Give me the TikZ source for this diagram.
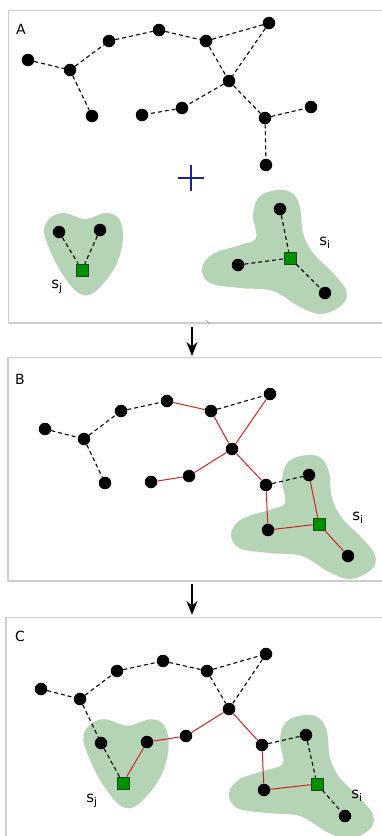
\documentclass[tikz,border=0pt]{standalone}
\usepackage{fontspec}
\setmainfont{DejaVu Sans}
\usetikzlibrary{arrows.meta}

\definecolor{blobgreen}{RGB}{181,211,181}
\definecolor{sqgreen}{RGB}{0,145,0}
\definecolor{sqedge}{RGB}{25,75,25}
\definecolor{edgered}{RGB}{205,35,35}
\definecolor{framegray}{RGB}{205,205,205}
\definecolor{crossblue}{RGB}{30,30,160}
\definecolor{tickpink}{RGB}{200,150,200}

\tikzset{
  dot/.style={circle, fill=black, inner sep=0pt, minimum size=12.5pt},
  hub/.style={rectangle, fill=sqgreen, draw=sqedge, line width=0.6pt, inner sep=0pt, minimum size=12pt},
  dsh/.style={line width=1.1pt, dash pattern=on 4pt off 3pt},
  rd/.style={edgered, line width=1pt},
  frame/.style={framegray, line width=1.3pt},
  panel/.style={font=\fontsize{14}{16}\selectfont},
  clab/.style={font=\fontsize{15}{17}\selectfont},
  flow/.style={line width=1.6pt, -{Stealth[length=14pt, width=11pt]}},
  blobj/.pic={
    \fill[blobgreen] plot[smooth cycle, tension=0.6] coordinates {
      (-39,-22) (-33,-36) (-19,-41) (2,-35) (23,-41) (36,-35) (40,-16)
      (34,9) (20,30) (6,41) (-6,38) (-18,24) (-30,3)};
  },
  blobi/.pic={
    \fill[blobgreen] plot[smooth cycle, tension=0.6] coordinates {
      (3,-62) (18,-59) (26,-45) (29,-19) (39,1) (59,21) (72,38) (69,52)
      (48,62) (26,55) (-1,39) (-34,36) (-64,31) (-72,16) (-61,2) (-34,-7)
      (-18,-14) (-21,-37) (-15,-55)};
  }
}

\begin{document}
\begin{tikzpicture}[x=1pt, y=-1pt]
\useasboundingbox (0,0) rectangle (382,836);

% ---------- frames ----------
\draw[frame] (382,10.5) -- (8.5,10.5) -- (8.5,323) -- (382,323);
\draw[frame] (382,357.5) -- (8,357.5) -- (8,581) -- (382,581);
\draw[frame] (382,617.5) -- (6,617.5) -- (6,837);
\draw[tickpink, line width=0.8pt] (206,320) -- (210,324);

% ---------- panel A ----------
\node[panel] (labA) at (21,29) {A};
\pic at (83,254) {blobj};
\pic at (274,252) {blobi};

\node[dot] (a1) at (28,60) {};
\node[dot] (a2) at (70,70) {};
\node[dot] (a3) at (92,116) {};
\node[dot] (a4) at (109,41) {};
\node[dot] (a5) at (159,30) {};
\node[dot] (a6) at (206,41) {};
\node[dot] (a7) at (269,23) {};
\node[dot] (a8) at (229,81) {};
\node[dot] (a9) at (182,108) {};
\node[dot] (a10) at (142,115) {};
\node[dot] (a11) at (265,118) {};
\node[dot] (a12) at (311,107) {};
\node[dot] (a13) at (266,165) {};
\node[dot] (aj1) at (59,232) {};
\node[dot] (aj2) at (100,230) {};
\node[hub] (aqj) at (82,270) {};
\node[dot] (ai1) at (280,209) {};
\node[dot] (ai2) at (238,265) {};
\node[hub] (aqi) at (290,258) {};
\node[dot] (ai3) at (325,293) {};

\draw[dsh] (a1) -- (a2) (a2) -- (a3) (a2) -- (a4) (a4) -- (a5) (a5) -- (a6)
  (a6) -- (a7) (a6) -- (a8) (a7) -- (a8) (a8) -- (a9) (a9) -- (a10)
  (a8) -- (a11) (a11) -- (a12) (a11) -- (a13);
\draw[dsh] (aj1) -- (aqj) (aj2) -- (aqj);
\draw[dsh] (ai1) -- (aqi) (ai2) -- (aqi) (aqi) -- (ai3);

\node[clab] (sjA) at (57,287) {s\textsubscript{j}};
\node[clab] (siA) at (325,243) {s\textsubscript{i}};

% centre mark
\coordinate (cx) at (191,178);
\draw[crossblue, line width=1.5pt] ([xshift=-13pt]cx) -- ([xshift=13pt]cx)
  ([yshift=-13pt]cx) -- ([yshift=13pt]cx);

% ---------- panel B ----------
\node[panel] (labB) at (20,379) {B};
\pic at (303,517) {blobi};

\node[dot] (b1) at (45,429) {};
\node[dot] (b2) at (84,439) {};
\node[dot] (b3) at (105,483) {};
\node[dot] (b4) at (121,411) {};
\node[dot] (b5) at (167,401) {};
\node[dot] (b6) at (211,411) {};
\node[dot] (b7) at (270,394) {};
\node[dot] (b8) at (232,449) {};
\node[dot] (b9) at (189,476) {};
\node[dot] (b10) at (151,482) {};
\node[dot] (b11) at (266,485) {};
\node[dot] (b12) at (309,475) {};
\node[dot] (b13) at (268,530) {};
\node[hub] (bqi) at (319,524) {};
\node[dot] (b14) at (348,556) {};

\draw[dsh] (b1) -- (b2) (b2) -- (b3) (b2) -- (b4) (b4) -- (b5) (b6) -- (b7)
  (b11) -- (b12);
\draw[rd] (b5) -- (b6) (b6) -- (b8) (b7) -- (b8) (b8) -- (b9) (b9) -- (b10)
  (b8) -- (b11) (b11) -- (b13) (b12) -- (bqi) (b13) -- (bqi) (bqi) -- (b14);

\node[clab] (siB) at (358,518) {s\textsubscript{i}};

% ---------- panel C ----------
\node[panel] (labC) at (20,636) {C};
\pic[scale=1.08] at (125.5,763.5) {blobj};
\pic at (301,777) {blobi};

\node[dot] (c1) at (41,689) {};
\node[dot] (c2) at (80,699) {};
\node[dot] (c3) at (117,671) {};
\node[dot] (c4) at (163,661) {};
\node[dot] (c5) at (207,671) {};
\node[dot] (c6) at (266,654) {};
\node[dot] (c7) at (229,709) {};
\node[dot] (c8) at (186,736) {};
\node[dot] (c9) at (147,742) {};
\node[dot] (c10) at (101,743) {};
\node[hub] (cqj) at (123,783) {};
\node[dot] (c11) at (262,745) {};
\node[dot] (c12) at (306,735) {};
\node[dot] (c13) at (264,790) {};
\node[hub] (cqi) at (317,784) {};
\node[dot] (c14) at (345,816) {};

\draw[dsh] (c1) -- (c2) (c2) -- (c3) (c3) -- (c4) (c4) -- (c5) (c5) -- (c6)
  (c5) -- (c7) (c6) -- (c7) (c2) -- (c10) (c10) -- (cqj) (c11) -- (c12)
  (c12) -- (cqi) (cqi) -- (c14);
\draw[rd] (cqj) -- (c9) (c9) -- (c8) (c8) -- (c7) (c7) -- (c11) (c11) -- (c13)
  (c13) -- (cqi);

\node[clab] (sjC) at (92,801) {s\textsubscript{j}};
\node[clab] (siC) at (357,796) {s\textsubscript{i}};

% ---------- flow arrows ----------
\coordinate (f1s) at (192,327);
\coordinate (f1e) at (192,356);
\coordinate (f2s) at (192,584);
\coordinate (f2e) at (192,615);
\draw[flow] (f1s) -- (f1e);
\draw[flow] (f2s) -- (f2e);
\end{tikzpicture}
\end{document}
